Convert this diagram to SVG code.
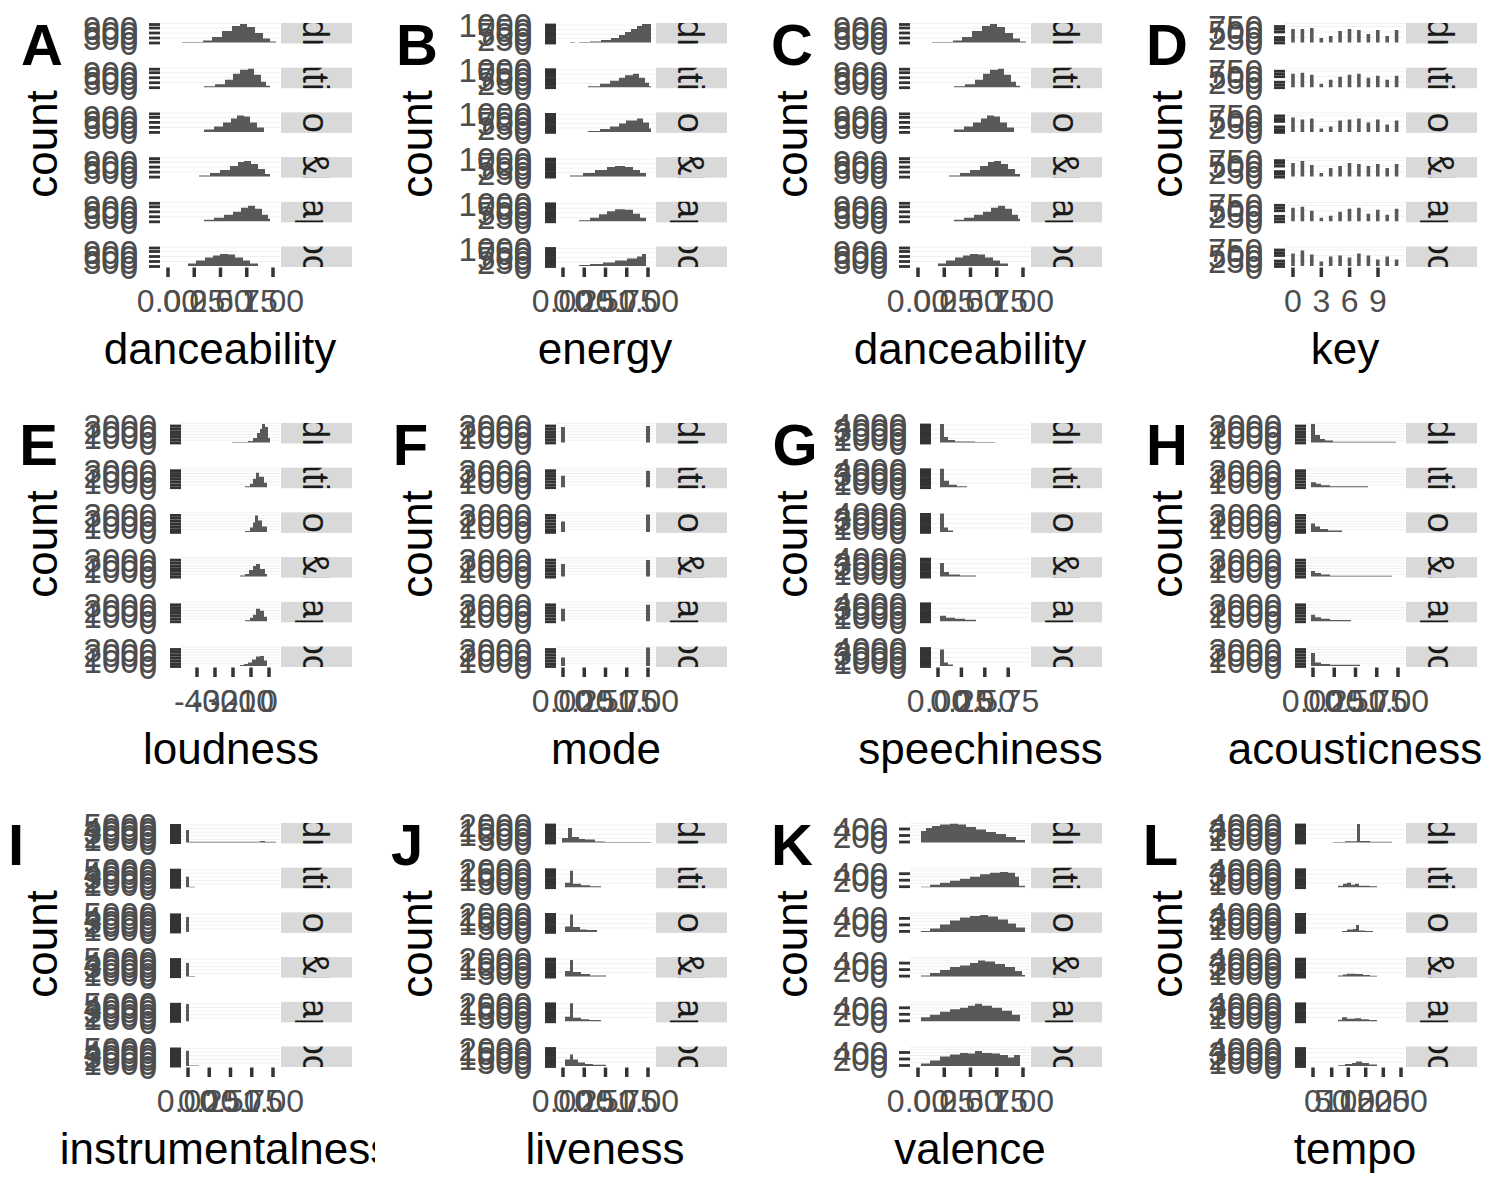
<svg xmlns="http://www.w3.org/2000/svg" xmlns:xlink="http://www.w3.org/1999/xlink" width="1500" height="1200" viewBox="0 0 1500 1200">
<style>
text{font-family:"Liberation Sans",Arial,sans-serif}
.tag{font-size:58px;font-weight:bold;fill:#000}
.ttl{font-size:44px;fill:#000;text-anchor:middle}
.yl{font-size:33px;fill:#4D4D4D;text-anchor:end}
.xl{font-size:32px;fill:#4D4D4D;text-anchor:middle}
.st{font-size:36px;fill:#1A1A1A;text-anchor:middle}
.strip{fill:#D9D9D9}
.h{fill:#595959}
.yt{stroke:#333;stroke-width:2.8}
.xt{stroke:#333;stroke-width:3.5}
.g{stroke:#F0F0F0;stroke-width:1}
</style>
<defs>
<clipPath id="cs0"><rect x="281" y="23" width="71" height="20.5"/></clipPath>
<clipPath id="cs1"><rect x="281" y="67.7" width="71" height="20.5"/></clipPath>
<clipPath id="cs2"><rect x="281" y="112.4" width="71" height="20.5"/></clipPath>
<clipPath id="cs3"><rect x="281" y="157.1" width="71" height="20.5"/></clipPath>
<clipPath id="cs4"><rect x="281" y="201.8" width="71" height="20.5"/></clipPath>
<clipPath id="cs5"><rect x="281" y="246.5" width="71" height="20.5"/></clipPath>
<clipPath id="cpanel"><rect x="0" y="0" width="375" height="400"/></clipPath>
<g id="strips">
<rect class="strip" x="281" y="23" width="71" height="20.5"/>
<rect class="strip" x="281" y="67.7" width="71" height="20.5"/>
<rect class="strip" x="281" y="112.4" width="71" height="20.5"/>
<rect class="strip" x="281" y="157.1" width="71" height="20.5"/>
<rect class="strip" x="281" y="201.8" width="71" height="20.5"/>
<rect class="strip" x="281" y="246.5" width="71" height="20.5"/>
<g clip-path="url(#cs0)"><text class="st" transform="translate(303,33.25) rotate(90)">edm</text></g>
<g clip-path="url(#cs1)"><text class="st" transform="translate(303,77.95) rotate(90)">latin</text></g>
<g clip-path="url(#cs2)"><text class="st" transform="translate(303,122.65) rotate(90)">pop</text></g>
<g clip-path="url(#cs3)"><text class="st" transform="translate(303,167.35) rotate(90)">r&amp;b</text></g>
<g clip-path="url(#cs4)"><text class="st" transform="translate(303,212.05) rotate(90)">rap</text></g>
<g clip-path="url(#cs5)"><text class="st" transform="translate(303,256.75) rotate(90)">rock</text></g>
</g>
<g id="yA">
<line class="g" x1="160" x2="280" y1="15" y2="15"/><line class="g" x1="160" x2="280" y1="10" y2="10"/><line class="g" x1="160" x2="280" y1="5" y2="5"/><line class="g" x1="160" x2="280" y1="0.5" y2="0.5"/>
<line class="yt" x1="149" x2="160" y1="20" y2="20"/><line class="yt" x1="149" x2="160" y1="15" y2="15"/><line class="yt" x1="149" x2="160" y1="10" y2="10"/><line class="yt" x1="149" x2="160" y1="5" y2="5"/><line class="yt" x1="149" x2="160" y1="1.5" y2="1.5"/>
<text class="yl" x="138" y="32">0</text><text class="yl" x="138" y="27">300</text><text class="yl" x="138" y="22">600</text><text class="yl" x="138" y="17">900</text>
</g>
<g id="yD">
<line class="g" x1="160" x2="280" y1="14.5" y2="14.5"/><line class="g" x1="160" x2="280" y1="9" y2="9"/><line class="g" x1="160" x2="280" y1="3.5" y2="3.5"/><line class="g" x1="160" x2="280" y1="0.5" y2="0.5"/>
<line class="yt" x1="149" x2="160" y1="20" y2="20"/><line class="yt" x1="149" x2="160" y1="14.5" y2="14.5"/><line class="yt" x1="149" x2="160" y1="9" y2="9"/><line class="yt" x1="149" x2="160" y1="3.5" y2="3.5"/><line class="yt" x1="149" x2="160" y1="17.2" y2="17.2"/><line class="yt" x1="149" x2="160" y1="6.2" y2="6.2"/>
<text class="yl" x="138" y="32">0</text><text class="yl" x="138" y="26.5">250</text><text class="yl" x="138" y="21">500</text><text class="yl" x="138" y="15.5">750</text>
</g>
<g id="yK">
<line class="g" x1="160" x2="280" y1="12.5" y2="12.5"/><line class="g" x1="160" x2="280" y1="6" y2="6"/><line class="g" x1="160" x2="280" y1="0.5" y2="0.5"/><line class="g" x1="160" x2="280" y1="16" y2="16"/><line class="g" x1="160" x2="280" y1="9" y2="9"/><line class="g" x1="160" x2="280" y1="3" y2="3"/>
<line class="yt" x1="149" x2="160" y1="19" y2="19"/><line class="yt" x1="149" x2="160" y1="12.5" y2="12.5"/><line class="yt" x1="149" x2="160" y1="6" y2="6"/>
<text class="yl" x="138" y="31">0</text><text class="yl" x="138" y="24.5">200</text><text class="yl" x="138" y="18">400</text>
</g>
<g id="yB">
<line class="g" x1="181" x2="280" y1="15.5" y2="15.5"/><line class="g" x1="181" x2="280" y1="11" y2="11"/><line class="g" x1="181" x2="280" y1="6.5" y2="6.5"/><line class="g" x1="181" x2="280" y1="2" y2="2"/>
<line class="yt" x1="170" x2="181" y1="20" y2="20"/><line class="yt" x1="170" x2="181" y1="15.5" y2="15.5"/><line class="yt" x1="170" x2="181" y1="11" y2="11"/><line class="yt" x1="170" x2="181" y1="6.5" y2="6.5"/><line class="yt" x1="170" x2="181" y1="2" y2="2"/><line class="yt" x1="170" x2="181" y1="17.7" y2="17.7"/><line class="yt" x1="170" x2="181" y1="13.2" y2="13.2"/><line class="yt" x1="170" x2="181" y1="8.7" y2="8.7"/><line class="yt" x1="170" x2="181" y1="4.2" y2="4.2"/>
<text class="yl" x="157" y="32">0</text><text class="yl" x="157" y="27.5">250</text><text class="yl" x="157" y="23">500</text><text class="yl" x="157" y="18.5">750</text><text class="yl" x="157" y="14">1000</text>
</g>
<g id="yE">
<line class="g" x1="181" x2="280" y1="14.3" y2="14.3"/><line class="g" x1="181" x2="280" y1="8.7" y2="8.7"/><line class="g" x1="181" x2="280" y1="3" y2="3"/><line class="g" x1="181" x2="280" y1="17.2" y2="17.2"/><line class="g" x1="181" x2="280" y1="11.5" y2="11.5"/><line class="g" x1="181" x2="280" y1="5.8" y2="5.8"/><line class="g" x1="181" x2="280" y1="0.5" y2="0.5"/>
<line class="yt" x1="170" x2="181" y1="20" y2="20"/><line class="yt" x1="170" x2="181" y1="14.3" y2="14.3"/><line class="yt" x1="170" x2="181" y1="8.7" y2="8.7"/><line class="yt" x1="170" x2="181" y1="3" y2="3"/><line class="yt" x1="170" x2="181" y1="17.2" y2="17.2"/><line class="yt" x1="170" x2="181" y1="11.5" y2="11.5"/><line class="yt" x1="170" x2="181" y1="5.8" y2="5.8"/>
<text class="yl" x="157" y="32">0</text><text class="yl" x="157" y="26.3">1000</text><text class="yl" x="157" y="20.7">2000</text><text class="yl" x="157" y="15">3000</text>
</g>
<g id="yG">
<line class="g" x1="181" x2="280" y1="15.5" y2="15.5"/><line class="g" x1="181" x2="280" y1="11" y2="11"/><line class="g" x1="181" x2="280" y1="6.5" y2="6.5"/><line class="g" x1="181" x2="280" y1="2" y2="2"/>
<line class="yt" x1="170" x2="181" y1="20" y2="20"/><line class="yt" x1="170" x2="181" y1="15.5" y2="15.5"/><line class="yt" x1="170" x2="181" y1="11" y2="11"/><line class="yt" x1="170" x2="181" y1="6.5" y2="6.5"/><line class="yt" x1="170" x2="181" y1="2" y2="2"/><line class="yt" x1="170" x2="181" y1="17.7" y2="17.7"/><line class="yt" x1="170" x2="181" y1="13.2" y2="13.2"/><line class="yt" x1="170" x2="181" y1="8.7" y2="8.7"/><line class="yt" x1="170" x2="181" y1="4.2" y2="4.2"/>
<text class="yl" x="157" y="32">0</text><text class="yl" x="157" y="27.5">1000</text><text class="yl" x="157" y="23">2000</text><text class="yl" x="157" y="18.5">3000</text><text class="yl" x="157" y="14">4000</text>
</g>
<g id="yI">
<line class="g" x1="181" x2="280" y1="16.4" y2="16.4"/><line class="g" x1="181" x2="280" y1="12.8" y2="12.8"/><line class="g" x1="181" x2="280" y1="9.2" y2="9.2"/><line class="g" x1="181" x2="280" y1="5.6" y2="5.6"/><line class="g" x1="181" x2="280" y1="2" y2="2"/>
<rect x="170" y="1" width="11" height="20" fill="#333"/>
<text class="yl" x="157" y="32">0</text><text class="yl" x="157" y="28.4">1000</text><text class="yl" x="157" y="24.8">2000</text><text class="yl" x="157" y="21.2">3000</text><text class="yl" x="157" y="17.6">4000</text><text class="yl" x="157" y="14">5000</text>
</g>
<g id="yJ">
<line class="g" x1="181" x2="280" y1="15.5" y2="15.5"/><line class="g" x1="181" x2="280" y1="11" y2="11"/><line class="g" x1="181" x2="280" y1="6.5" y2="6.5"/><line class="g" x1="181" x2="280" y1="2" y2="2"/>
<line class="yt" x1="170" x2="181" y1="20" y2="20"/><line class="yt" x1="170" x2="181" y1="15.5" y2="15.5"/><line class="yt" x1="170" x2="181" y1="11" y2="11"/><line class="yt" x1="170" x2="181" y1="6.5" y2="6.5"/><line class="yt" x1="170" x2="181" y1="2" y2="2"/><line class="yt" x1="170" x2="181" y1="17.7" y2="17.7"/><line class="yt" x1="170" x2="181" y1="13.2" y2="13.2"/><line class="yt" x1="170" x2="181" y1="8.7" y2="8.7"/><line class="yt" x1="170" x2="181" y1="4.2" y2="4.2"/>
<text class="yl" x="157" y="32">0</text><text class="yl" x="157" y="27.5">500</text><text class="yl" x="157" y="23">1000</text><text class="yl" x="157" y="18.5">1500</text><text class="yl" x="157" y="14">2000</text>
</g>
<g id="xA">
<line class="xt" x1="168" x2="168" y1="267.5" y2="277"/><line class="xt" x1="194.25" x2="194.25" y1="267.5" y2="277"/><line class="xt" x1="220.5" x2="220.5" y1="267.5" y2="277"/><line class="xt" x1="246.75" x2="246.75" y1="267.5" y2="277"/><line class="xt" x1="273" x2="273" y1="267.5" y2="277"/>
<text class="xl" x="168" y="312">0.00</text><text class="xl" x="194.25" y="312">0.25</text><text class="xl" x="220.5" y="312">0.50</text><text class="xl" x="246.75" y="312">0.75</text><text class="xl" x="273" y="312">1.00</text>
</g>
<g id="xB">
<line class="xt" x1="188" x2="188" y1="267.5" y2="277"/><line class="xt" x1="209.25" x2="209.25" y1="267.5" y2="277"/><line class="xt" x1="230.5" x2="230.5" y1="267.5" y2="277"/><line class="xt" x1="251.75" x2="251.75" y1="267.5" y2="277"/><line class="xt" x1="273" x2="273" y1="267.5" y2="277"/>
<text class="xl" x="188" y="312">0.00</text><text class="xl" x="209.25" y="312">0.25</text><text class="xl" x="230.5" y="312">0.50</text><text class="xl" x="251.75" y="312">0.75</text><text class="xl" x="273" y="312">1.00</text>
</g>
<g id="histA">
<path class="h" transform="translate(0,23)" d="M182 19.5V19H203V17.5H212V14H222V8H232V3H240V1H247V4H255V10H263V15.5H270V18.5H276V19.5Z"/>
<path class="h" transform="translate(0,67.7)" d="M204 19.5V18.5H215V16.5H225V12H233V6H240V2H248V1H254V7H261V14H266V18H270V19.5Z"/>
<path class="h" transform="translate(0,112.4)" d="M204 19.5V17H214V14H223V10H231V6H237V3H244V4H250V10H257V15H264V19.5Z"/>
<path class="h" transform="translate(0,157.1)" d="M199 19.5V18.5H210V16H220V13H230V9H238V5H244V4H251V7H258V12H265V17H270V19.5Z"/>
<path class="h" transform="translate(0,201.8)" d="M204 19.5V18H214V16H224V13H233V10H241V6H248V4H255V7H262V13H268V17H270V19.5Z"/>
<path class="h" transform="translate(0,246.5)" d="M188 19.5V17H196V14H205V11H213V9H220V7.5H228V8H235V11H243V14H250V17H258V19.5Z"/>
</g>
</defs>
<rect x="0" y="0" width="1500" height="1200" fill="#FFFFFF"/>

<g id="panel-A">
<use href="#yA" y="23"/><use href="#yA" y="67.7"/><use href="#yA" y="112.4"/><use href="#yA" y="157.1"/><use href="#yA" y="201.8"/><use href="#yA" y="246.5"/>
<use href="#histA"/>
<use href="#strips"/>
<use href="#xA"/>
<text class="ttl" x="220" y="364">danceability</text>
<text class="ttl" transform="translate(57,144) rotate(-90)">count</text>
<text class="tag" x="20.9" y="65">A</text>
</g>

<g id="panel-B" transform="translate(375,0)">
<use href="#yB" y="23"/><use href="#yB" y="67.7"/><use href="#yB" y="112.4"/><use href="#yB" y="157.1"/><use href="#yB" y="201.8"/><use href="#yB" y="246.5"/>
<path class="h" transform="translate(0,23)" d="M195 19.5V19H200V19.5H204V19H215V18.5H226V17H236V15H244V12H250V9H256V6H262V3H267V1H276V19.5Z"/>
<path class="h" transform="translate(0,67.7)" d="M213 19.5V18.5H225V16H235V13H244V10H250V7.5H258V6H264V10H270V15H274V18.5H276V19.5Z"/>
<path class="h" transform="translate(0,112.4)" d="M213 19.5V18.5H225V16.5H235V14H244V11H251V8H262V6H268V10H274V16H276V19.5Z"/>
<path class="h" transform="translate(0,157.1)" d="M195 19.5V18.5H208V16H220V13H232V10H240V9H250V10H258V13H265V16H271V19.5Z"/>
<path class="h" transform="translate(0,201.8)" d="M204 19.5V18.5H215V16H224V12.5H232V9.5H240V7.5H250V8H258V12H265V16H271V19.5Z"/>
<path class="h" transform="translate(0,246.5)" d="M204 19.5V18.5H215V17.5H228V16H240V14H252V12H262V10H267V7.5H271V19.5Z"/>
<use href="#strips"/>
<use href="#xB"/>
<text class="ttl" x="230" y="364">energy</text>
<text class="ttl" transform="translate(57,144) rotate(-90)">count</text>
<text class="tag" x="20.9" y="65">B</text>
</g>

<g id="panel-C" transform="translate(750,0)">
<use href="#yA" y="23"/><use href="#yA" y="67.7"/><use href="#yA" y="112.4"/><use href="#yA" y="157.1"/><use href="#yA" y="201.8"/><use href="#yA" y="246.5"/>
<use href="#histA"/>
<use href="#strips"/>
<use href="#xA"/>
<text class="ttl" x="220" y="364">danceability</text>
<text class="ttl" transform="translate(57,144) rotate(-90)">count</text>
<text class="tag" x="20.9" y="65">C</text>
</g>

<g id="panel-D" transform="translate(1125,0)">
<use href="#yD" y="23"/><use href="#yD" y="67.7"/><use href="#yD" y="112.4"/><use href="#yD" y="157.1"/><use href="#yD" y="201.8"/><use href="#yD" y="246.5"/>
<path class="h" transform="translate(0,23)" d="M166.2 19.5V6h3.6V19.5Z M175.6 19.5V6h3.6V19.5Z M185 19.5V5h3.6V19.5Z M194.5 19.5V15h3.6V19.5Z M203.9 19.5V13h3.6V19.5Z M213.3 19.5V8h3.6V19.5Z M222.7 19.5V6h3.6V19.5Z M232.1 19.5V7h3.6V19.5Z M241.6 19.5V11h3.6V19.5Z M251 19.5V7h3.6V19.5Z M260.4 19.5V13h3.6V19.5Z M269.8 19.5V7h3.6V19.5Z"/>
<path class="h" transform="translate(0,67.7)" d="M166.2 19.5V6h3.6V19.5Z M175.6 19.5V5h3.6V19.5Z M185 19.5V7h3.6V19.5Z M194.5 19.5V16h3.6V19.5Z M203.9 19.5V12h3.6V19.5Z M213.3 19.5V9h3.6V19.5Z M222.7 19.5V7h3.6V19.5Z M232.1 19.5V6h3.6V19.5Z M241.6 19.5V10h3.6V19.5Z M251 19.5V8h3.6V19.5Z M260.4 19.5V12h3.6V19.5Z M269.8 19.5V8h3.6V19.5Z"/>
<path class="h" transform="translate(0,112.4)" d="M166.2 19.5V5h3.6V19.5Z M175.6 19.5V7h3.6V19.5Z M185 19.5V6h3.6V19.5Z M194.5 19.5V16h3.6V19.5Z M203.9 19.5V14h3.6V19.5Z M213.3 19.5V8h3.6V19.5Z M222.7 19.5V7h3.6V19.5Z M232.1 19.5V6h3.6V19.5Z M241.6 19.5V10h3.6V19.5Z M251 19.5V7h3.6V19.5Z M260.4 19.5V12h3.6V19.5Z M269.8 19.5V8h3.6V19.5Z"/>
<path class="h" transform="translate(0,157.1)" d="M166.2 19.5V6h3.6V19.5Z M175.6 19.5V4h3.6V19.5Z M185 19.5V8h3.6V19.5Z M194.5 19.5V16h3.6V19.5Z M203.9 19.5V11h3.6V19.5Z M213.3 19.5V9h3.6V19.5Z M222.7 19.5V6h3.6V19.5Z M232.1 19.5V7h3.6V19.5Z M241.6 19.5V9h3.6V19.5Z M251 19.5V7h3.6V19.5Z M260.4 19.5V11h3.6V19.5Z M269.8 19.5V7h3.6V19.5Z"/>
<path class="h" transform="translate(0,201.8)" d="M166.2 19.5V6h3.6V19.5Z M175.6 19.5V5h3.6V19.5Z M185 19.5V9h3.6V19.5Z M194.5 19.5V16h3.6V19.5Z M203.9 19.5V14h3.6V19.5Z M213.3 19.5V10h3.6V19.5Z M222.7 19.5V7h3.6V19.5Z M232.1 19.5V6h3.6V19.5Z M241.6 19.5V12h3.6V19.5Z M251 19.5V8h3.6V19.5Z M260.4 19.5V13h3.6V19.5Z M269.8 19.5V7h3.6V19.5Z"/>
<path class="h" transform="translate(0,246.5)" d="M166.2 19.5V7h3.6V19.5Z M175.6 19.5V4h3.6V19.5Z M185 19.5V8h3.6V19.5Z M194.5 19.5V15h3.6V19.5Z M203.9 19.5V10h3.6V19.5Z M213.3 19.5V9h3.6V19.5Z M222.7 19.5V11h3.6V19.5Z M232.1 19.5V7h3.6V19.5Z M241.6 19.5V9h3.6V19.5Z M251 19.5V13h3.6V19.5Z M260.4 19.5V10h3.6V19.5Z M269.8 19.5V13h3.6V19.5Z"/>
<use href="#strips"/>
<line class="xt" x1="168" x2="168" y1="267.5" y2="277"/><line class="xt" x1="196.3" x2="196.3" y1="267.5" y2="277"/><line class="xt" x1="224.6" x2="224.6" y1="267.5" y2="277"/><line class="xt" x1="253" x2="253" y1="267.5" y2="277"/>
<text class="xl" x="168" y="312">0</text><text class="xl" x="196.3" y="312">3</text><text class="xl" x="224.6" y="312">6</text><text class="xl" x="253" y="312">9</text>
<text class="ttl" x="220" y="364">key</text>
<text class="ttl" transform="translate(57,144) rotate(-90)">count</text>
<text class="tag" x="20.9" y="65">D</text>
</g>

<g id="panel-E" transform="translate(0,400)">
<use href="#yE" y="23"/><use href="#yE" y="67.7"/><use href="#yE" y="112.4"/><use href="#yE" y="157.1"/><use href="#yE" y="201.8"/><use href="#yE" y="246.5"/>
<path class="h" transform="translate(0,23)" d="M232 19.5V19H248V18H253V15H257V10H260V6H262V1H265V4H268V15H270V19.5Z"/>
<path class="h" transform="translate(0,67.7)" d="M245 19.5V18.5H250V16H253V11H256V5H259V9H264V15H267V19.5Z"/>
<path class="h" transform="translate(0,112.4)" d="M245 19.5V18.5H250V15H253V10H255V3H258V8H262V14H267V19.5Z"/>
<path class="h" transform="translate(0,157.1)" d="M240 19.5V18.5H245V17H249V13H253V9H256V7H260V12H265V17H267V19.5Z"/>
<path class="h" transform="translate(0,201.8)" d="M245 19.5V18.5H250V16H253V13H256V7H260V9H264V15H267V19.5Z"/>
<path class="h" transform="translate(0,246.5)" d="M240 19.5V18.5H244V17.5H248V16H252V13H256V10H260V9.5H264V14H267V19.5Z"/>
<use href="#strips"/>
<line class="xt" x1="197" x2="197" y1="267.5" y2="277"/><line class="xt" x1="215" x2="215" y1="267.5" y2="277"/><line class="xt" x1="233" x2="233" y1="267.5" y2="277"/><line class="xt" x1="251" x2="251" y1="267.5" y2="277"/><line class="xt" x1="269" x2="269" y1="267.5" y2="277"/>
<text class="xl" x="197" y="312">-40</text><text class="xl" x="215" y="312">-30</text><text class="xl" x="233" y="312">-20</text><text class="xl" x="251" y="312">-10</text><text class="xl" x="269" y="312">0</text>
<text class="ttl" x="231" y="364">loudness</text>
<text class="ttl" transform="translate(57,144) rotate(-90)">count</text>
<text class="tag" x="19.3" y="65">E</text>
</g>

<g id="panel-F" transform="translate(375,400)">
<use href="#yE" y="23"/><use href="#yE" y="67.7"/><use href="#yE" y="112.4"/><use href="#yE" y="157.1"/><use href="#yE" y="201.8"/><use href="#yE" y="246.5"/>
<path class="h" transform="translate(0,23)" d="M186 19.5V4h4V19.5Z M271 19.5V3h4V19.5Z"/>
<path class="h" transform="translate(0,67.7)" d="M186 19.5V8h4V19.5Z M271 19.5V3h4V19.5Z"/>
<path class="h" transform="translate(0,112.4)" d="M186 19.5V9h4V19.5Z M271 19.5V2h4V19.5Z"/>
<path class="h" transform="translate(0,157.1)" d="M186 19.5V7h4V19.5Z M271 19.5V3h4V19.5Z"/>
<path class="h" transform="translate(0,201.8)" d="M186 19.5V7h4V19.5Z M271 19.5V3h4V19.5Z"/>
<path class="h" transform="translate(0,246.5)" d="M186 19.5V11h4V19.5Z M271 19.5V1h4V19.5Z"/>
<use href="#strips"/>
<use href="#xB"/>
<text class="ttl" x="231" y="364">mode</text>
<text class="ttl" transform="translate(57,144) rotate(-90)">count</text>
<text class="tag" x="17.7" y="65">F</text>
</g>

<g id="panel-G" transform="translate(750,400)">
<use href="#yG" y="23"/><use href="#yG" y="67.7"/><use href="#yG" y="112.4"/><use href="#yG" y="157.1"/><use href="#yG" y="201.8"/><use href="#yG" y="246.5"/>
<path class="h" transform="translate(0,23)" d="M190 19.5V1H194V14H198V17H205V18.5H225V19H245V19.5Z"/>
<path class="h" transform="translate(0,67.7)" d="M190 19.5V1H194V13H199V17H207V18.5H217V19.5Z"/>
<path class="h" transform="translate(0,112.4)" d="M190 19.5V1H194V15H198V18H203V19.5Z"/>
<path class="h" transform="translate(0,157.1)" d="M190 19.5V6H194V15H199V17.5H210V18.5H226V19.5Z"/>
<path class="h" transform="translate(0,201.8)" d="M190 19.5V14H196V16H205V17H215V18H226V19.5Z"/>
<path class="h" transform="translate(0,246.5)" d="M190 19.5V3H194V16H198V18H203V19.5Z"/>
<use href="#strips"/>
<line class="xt" x1="188" x2="188" y1="267.5" y2="277"/><line class="xt" x1="211.4" x2="211.4" y1="267.5" y2="277"/><line class="xt" x1="234.8" x2="234.8" y1="267.5" y2="277"/><line class="xt" x1="258.2" x2="258.2" y1="267.5" y2="277"/>
<text class="xl" x="188" y="312">0.00</text><text class="xl" x="211.4" y="312">0.25</text><text class="xl" x="234.8" y="312">0.50</text><text class="xl" x="258.2" y="312">0.75</text>
<text class="ttl" x="230.5" y="364">speechiness</text>
<text class="ttl" transform="translate(57,144) rotate(-90)">count</text>
<text class="tag" x="22.6" y="65">G</text>
</g>

<g id="panel-H" transform="translate(1125,400)">
<use href="#yE" y="23"/><use href="#yE" y="67.7"/><use href="#yE" y="112.4"/><use href="#yE" y="157.1"/><use href="#yE" y="201.8"/><use href="#yE" y="246.5"/>
<path class="h" transform="translate(0,23)" d="M186 19.5V1H190V12H195V16H200V17.5H208V18.8H271V19.5Z"/>
<path class="h" transform="translate(0,67.7)" d="M186 19.5V14.5H191V16H196V17.5H205V18.5H243V19.5Z"/>
<path class="h" transform="translate(0,112.4)" d="M186 19.5V11H190V14H195V16.5H203V18H217V19.5Z"/>
<path class="h" transform="translate(0,157.1)" d="M186 19.5V14H190V16H196V17.5H205V18.6H267V19.5Z"/>
<path class="h" transform="translate(0,201.8)" d="M186 19.5V13H190V15.5H196V17H205V18.3H226V19.5Z"/>
<path class="h" transform="translate(0,246.5)" d="M186 19.5V6.5H190V16H196V17.5H205V18.3H235V19.5Z"/>
<use href="#strips"/>
<use href="#xB"/>
<text class="ttl" x="230" y="364">acousticness</text>
<text class="ttl" transform="translate(57,144) rotate(-90)">count</text>
<text class="tag" x="20.9" y="65">H</text>
</g>

<g id="panel-I" transform="translate(0,800)">
<use href="#yI" y="23"/><use href="#yI" y="67.7"/><use href="#yI" y="112.4"/><use href="#yI" y="157.1"/><use href="#yI" y="201.8"/><use href="#yI" y="246.5"/>
<path class="h" transform="translate(0,23)" d="M186 19.5V7H189V18.8H260V18H265V18.8H276V19.5Z"/>
<path class="h" transform="translate(0,67.7)" d="M186 19.5V9H189V19H195V19.5Z"/>
<path class="h" transform="translate(0,112.4)" d="M186 19.5V4.5H189V19.5Z"/>
<path class="h" transform="translate(0,157.1)" d="M186 19.5V6H189V19H195V19.5Z"/>
<path class="h" transform="translate(0,201.8)" d="M186 19.5V2.3H189V19.5Z"/>
<path class="h" transform="translate(0,246.5)" d="M186 19.5V4.3H189V19H199V19.5Z"/>
<use href="#strips"/>
<use href="#xB"/>
<g clip-path="url(#cpanel)"><text class="ttl" x="226" y="364">instrumentalness</text></g>
<text class="ttl" transform="translate(57,144) rotate(-90)">count</text>
<text class="tag" x="8" y="65">I</text>
</g>

<g id="panel-J" transform="translate(375,800)">
<use href="#yJ" y="23"/><use href="#yJ" y="67.7"/><use href="#yJ" y="112.4"/><use href="#yJ" y="157.1"/><use href="#yJ" y="201.8"/><use href="#yJ" y="246.5"/>
<path class="h" transform="translate(0,23)" d="M187 19.5V15H193V5H197V14H204V16H210V16.5H220V18.5H230V19H276V19.5Z"/>
<path class="h" transform="translate(0,67.7)" d="M190 19.5V15H195V3H198V16H206V17.5H215V18.5H226V19.5Z"/>
<path class="h" transform="translate(0,112.4)" d="M190 19.5V14H195V2H198V14.5H205V17H212V17.5H222V19.5Z"/>
<path class="h" transform="translate(0,157.1)" d="M190 19.5V14H195V3H198V15H206V17H215V18.3H231V19.5Z"/>
<path class="h" transform="translate(0,201.8)" d="M190 19.5V15H195V1.5H198V16H206V17.5H214V18.3H226V19.5Z"/>
<path class="h" transform="translate(0,246.5)" d="M190 19.5V13H195V8H198V13H203V16H210V17.5H218V18.3H231V19.5Z"/>
<use href="#strips"/>
<use href="#xB"/>
<text class="ttl" x="230" y="364">liveness</text>
<text class="ttl" transform="translate(57,144) rotate(-90)">count</text>
<text class="tag" x="16.1" y="65">J</text>
</g>

<g id="panel-K" transform="translate(750,800)">
<use href="#yK" y="23"/><use href="#yK" y="67.7"/><use href="#yK" y="112.4"/><use href="#yK" y="157.1"/><use href="#yK" y="201.8"/><use href="#yK" y="246.5"/>
<path class="h" transform="translate(0,23)" d="M171 19.5V8H176V5H182V3H190V1.5H200V0.8H208V1.5H216V4H226V6.5H236V9H246V11H256V14H266V17H275V19.5Z"/>
<path class="h" transform="translate(0,67.7)" d="M171 19.5V19H180V17H190V15H200V13H210V11H220V9H230V6.5H240V5H250V4.3H258V5H265V9H269V18H275V19.5Z"/>
<path class="h" transform="translate(0,112.4)" d="M171 19.5V18.5H180V16H190V12H200V8H210V5H220V3.5H230V2.7H238V4H248V7H258V11H266V15H275V19.5Z"/>
<path class="h" transform="translate(0,157.1)" d="M171 19.5V18.5H180V16H190V13H200V10H210V8.5H220V6H228V3.5H235V4.5H245V7H255V10H265V14H272V18H275V19.5Z"/>
<path class="h" transform="translate(0,201.8)" d="M171 19.5V15.5H180V13H190V10H200V7.5H210V6H218V4H225V2H232V4H242V6H252V9H262V13H270V19.5Z"/>
<path class="h" transform="translate(0,246.5)" d="M171 19.5V17H180V14H190V10H200V8H210V6.5H218V7H225V4.5H232V6.5H242V7H250V8.5H258V11H264V8.5H270V19.5Z"/>
<use href="#strips"/>
<use href="#xA"/>
<text class="ttl" x="220" y="364">valence</text>
<text class="ttl" transform="translate(57,144) rotate(-90)">count</text>
<text class="tag" x="20.9" y="65">K</text>
</g>

<g id="panel-L" transform="translate(1125,800)">
<use href="#yG" y="23"/><use href="#yG" y="67.7"/><use href="#yG" y="112.4"/><use href="#yG" y="157.1"/><use href="#yG" y="201.8"/><use href="#yG" y="246.5"/>
<path class="h" transform="translate(0,23)" d="M208 19.5V19H220V18.3H232V1H235V18H245V18.8H267V19.5Z"/>
<path class="h" transform="translate(0,67.7)" d="M213 19.5V18H218V16H222V15H226V17H230V16H234V18H245V18.5H252V19.5Z"/>
<path class="h" transform="translate(0,112.4)" d="M217 19.5V18.5H222V17H228V16.5H231V12.5H234V18H240V18.5H248V19.5Z"/>
<path class="h" transform="translate(0,157.1)" d="M213 19.5V18.5H218V17.5H222V16.7H230V17H238V18H245V18.6H252V19.5Z"/>
<path class="h" transform="translate(0,201.8)" d="M213 19.5V18H217V15.5H222V17H230V16.5H236V17.5H244V18.3H252V19.5Z"/>
<path class="h" transform="translate(0,246.5)" d="M213 19.5V18.8H220V17.5H227V16.5H231V15H237V16.5H244V18H252V19.5Z"/>
<use href="#strips"/>
<line class="xt" x1="188" x2="188" y1="267.5" y2="277"/><line class="xt" x1="206.7" x2="206.7" y1="267.5" y2="277"/><line class="xt" x1="223.3" x2="223.3" y1="267.5" y2="277"/><line class="xt" x1="240.7" x2="240.7" y1="267.5" y2="277"/><line class="xt" x1="258.3" x2="258.3" y1="267.5" y2="277"/><line class="xt" x1="276" x2="276" y1="267.5" y2="277"/>
<text class="xl" x="188" y="312">0</text><text class="xl" x="206.7" y="312">50</text><text class="xl" x="223.3" y="312">100</text><text class="xl" x="240.7" y="312">150</text><text class="xl" x="258.3" y="312">200</text><text class="xl" x="276" y="312">250</text>
<text class="ttl" x="230" y="364">tempo</text>
<text class="ttl" transform="translate(57,144) rotate(-90)">count</text>
<text class="tag" x="17.7" y="65">L</text>
</g>
</svg>
